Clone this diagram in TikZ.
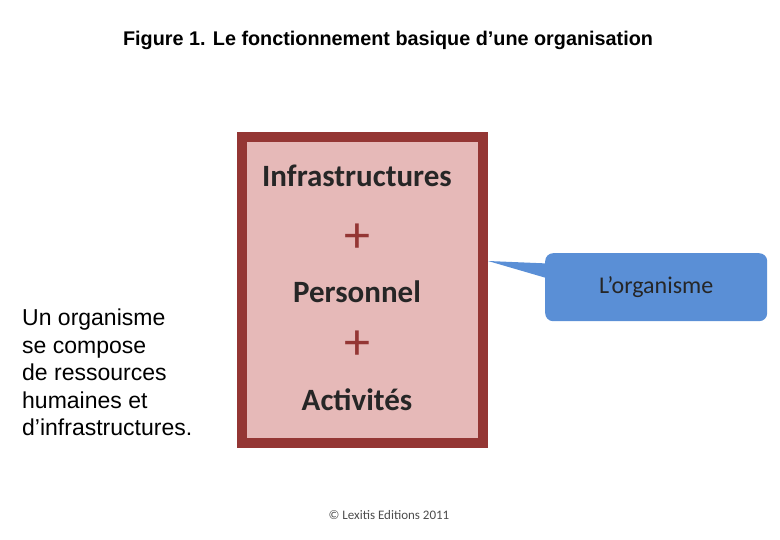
\documentclass[tikz,border=0pt]{standalone}
\usepackage{fontspec}
\setmainfont{Liberation Sans}
\newfontfamily\calfont{Carlito}
\definecolor{bord}{HTML}{943634}
\definecolor{pink}{HTML}{E6B9B8}
\definecolor{blu}{HTML}{5A8FD6}
\begin{document}
\begin{tikzpicture}[x=1pt,y=-1pt,
  big/.style={font=\calfont\bfseries\fontsize{31}{34}\selectfont,text=black!85},
  plus/.style={font=\fontsize{52}{54}\selectfont\calfont,text=bord},
  lt/.style={font=\fontsize{23}{27.5}\selectfont,anchor=north west,align=left,inner sep=0}]
\useasboundingbox (0,0) rectangle (780,540);
\node (title) at (388,40) {\bfseries\fontsize{19.8}{22}\selectfont Figure 1. Le fonctionnement basique d’une organisation};
\node (box) [draw=bord,line width=10pt,fill=pink,minimum width=241,minimum height=306,anchor=north west] at (237,132) {};
\node[big] (i) at (357,176) {Infrastructures};
\node[plus] (p1) at (357,238) {+};
\node[big] (p) at (357,292) {Personnel};
\node[plus] (p2) at (357,345) {+};
\node[big] (a) at (357,400) {Activités};
\coordinate (tip) at (488,261);
\fill[blu] (tip) -- (560,264) -- (560,282) -- cycle;
\node (org) [fill=blu,rounded corners=8pt,minimum width=222,minimum height=68,anchor=north west,font=\calfont\fontsize{24}{26}\selectfont,text=black!85] at (545,253) {L’organisme};
\node[lt] (left) at (22,309) {Un organisme\\se compose\\de ressources\\humaines et\\d’infrastructures.};
\node (copy) at (389,515) {\calfont\fontsize{13}{15}\selectfont\textcolor{black!70}{© Lexitis Editions 2011}};
\end{tikzpicture}
\end{document}
